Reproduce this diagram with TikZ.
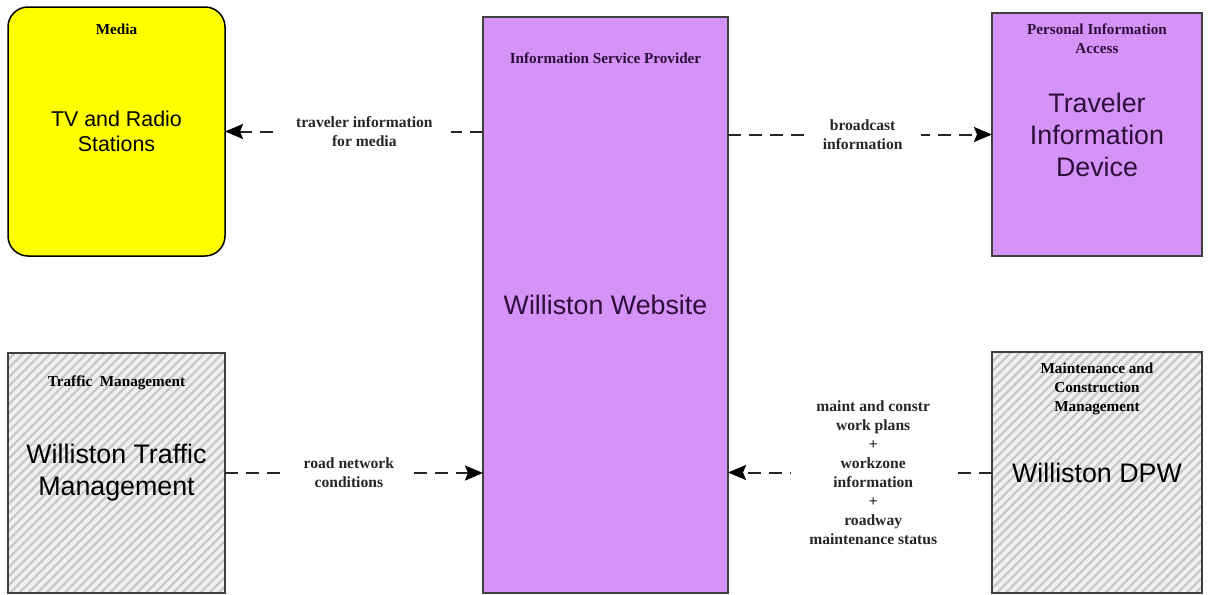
\documentclass[tikz,border=0pt]{standalone}
\usepackage{fontspec}
\setmainfont{Liberation Serif}
\setsansfont{Liberation Sans}
\usepackage{xcolor}
\definecolor{ispviolet}{RGB}{213, 147, 247}
\definecolor{deepviolet}{RGB}{45, 15, 60}
\definecolor{mediayellow}{RGB}{255, 255, 0}
\usepackage{tikz}
\usetikzlibrary{
    arrows.meta,
    positioning,
    patterns.meta
}
\tikzstyle{unit} = [
    rectangle, draw=black!75,
    line width=0.75pt,
    inner sep=0pt, outer sep=0pt,
    text centered,
    align=center,
    font=\sffamily\fontsize{13.4}{16}\selectfont
]
\tikzstyle{mediabox} = [
    unit,
    rounded corners=10pt,
    draw=black,
    fill=mediayellow,
    minimum width=108.5pt,
    minimum height=124.5pt,
    font=\sffamily\fontsize{10.7}{12.5}\selectfont
]
\tikzstyle{violetbox} = [
    unit,
    fill=ispviolet,
    text=deepviolet
]
\tikzstyle{hatchbox} = [
    unit,
    preaction={fill=black!6},
    pattern={Lines[angle=45, distance=3.2pt, line width=1.1pt]},
    pattern color=black!22
]
\tikzstyle{cat} = [
    inner sep=0pt,
    align=center,
    font=\bfseries\fontsize{7.6}{9.5}\selectfont
]
\tikzstyle{lbl} = [
    fill=white,
    inner xsep=9pt, inner ysep=1pt,
    align=center,
    text=black!85,
    font=\bfseries\fontsize{7.8}{9.5}\selectfont
]
\tikzstyle{flow} = [
    line width=1pt,
    black!85,
    dash pattern=on 6.5pt off 4pt,
    -{Stealth[length=9pt, width=7.5pt, inset=1.5pt, black]}
]

\begin{document}
\begin{tikzpicture}[x=0.5pt, y=-0.5pt]
\useasboundingbox (0,0) rectangle (1209,594);

\node (media) [mediabox] at (116.5,131.5) {TV and Radio\\Stations};
\node (isp) [violetbox, minimum width=122.5pt, minimum height=288pt]
    at (605.5,305) {Williston Website};
\node (pia) [violetbox, minimum width=105pt, minimum height=121.5pt]
    at (1097,134.5) {Traveler\\Information\\Device};
\node (twm) [hatchbox, minimum width=108.5pt, minimum height=120pt]
    at (116.5,473) {Williston Traffic\\Management};
\node (dpw) [hatchbox, minimum width=105pt, minimum height=120.5pt]
    at (1097,472.5) {Williston DPW};

% categories
\node [cat, below=8.5pt of media.north] {Media};
\node [cat, text=deepviolet, below=17.5pt of isp.north] {Information Service Provider};
\node [cat, text=deepviolet, below=5pt of pia.north] {Personal Information\\Access};
\node [cat, below=11pt of twm.north] {Traffic~~Management};
\node [cat, below=5.5pt of dpw.north] {Maintenance and\\Construction\\Management};

% flows
\draw [flow] (isp.west |- media.east) -- node[lbl, pos=0.46]
    {traveler information\\for media} (media.east);
\draw [flow] (isp.east |- pia.west) -- node[lbl, pos=0.51]
    {broadcast\\information} (pia.west);
\draw [flow] (twm.east) -- node[lbl, pos=0.48]
    {road network\\conditions} (isp.west |- twm.east);
\draw [flow] (dpw.west) -- node[lbl, pos=0.45]
    {maint and constr\\work plans\\+\\workzone\\information\\+\\roadway\\maintenance status} (isp.east |- dpw.west);

\end{tikzpicture}
\end{document}
